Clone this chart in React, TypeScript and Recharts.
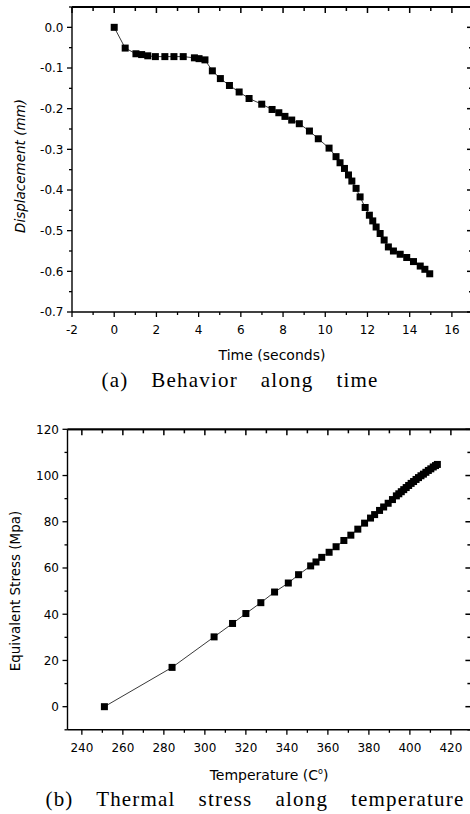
import React from "react";
import { LineChart, Line, XAxis, YAxis, Label, ReferenceLine } from "recharts";

// (a) displacement vs time
const timeSec = [
  0, 0.52, 1.03, 1.3, 1.59, 1.95, 2.4, 2.83, 3.27, 3.8, 4.02, 4.3, 4.65, 5.03,
  5.46, 5.92, 6.39, 6.99, 7.48, 7.8, 8.09, 8.41, 8.77, 9.25, 9.67, 10.18, 10.51,
  10.7, 10.91, 11.1, 11.26, 11.46, 11.65, 11.89, 12.09, 12.25, 12.41, 12.6,
  12.79, 12.99, 13.23, 13.55, 13.86, 14.18, 14.5, 14.72, 14.95,
];
const displacementMm = [
  0, -0.051, -0.065, -0.067, -0.07, -0.072, -0.072, -0.072, -0.072, -0.075,
  -0.077, -0.08, -0.107, -0.126, -0.143, -0.159, -0.175, -0.189, -0.202, -0.21,
  -0.219, -0.228, -0.237, -0.255, -0.274, -0.297, -0.318, -0.333, -0.347,
  -0.363, -0.378, -0.396, -0.417, -0.443, -0.462, -0.476, -0.491, -0.507,
  -0.523, -0.54, -0.55, -0.558, -0.566, -0.576, -0.587, -0.595, -0.606,
];

// (b) equivalent stress vs temperature
const temperatureC = [
  251, 284, 304.5, 313.5, 320, 327.3, 334, 340.7, 345.7, 351.6, 354.2, 357,
  360.6, 364, 367.8, 371.2, 374.6, 377.9, 380.8, 382.8, 385.2, 387.2, 389.4,
  391.5, 393.4, 394.6, 395.8, 397, 398.2, 399.4, 400.6, 401.8, 403, 404.2,
  405.4, 406.6, 407.8, 409, 410.2, 411.4, 412.5, 413.4,
];
const stressMpa = [
  0, 17, 30.2, 36, 40.3, 45, 49.6, 53.5, 57.1, 60.9, 62.6, 64.6, 66.8, 69.2,
  71.9, 74.2, 76.8, 79.4, 81.6, 83.1, 84.9, 86.4, 88, 89.6, 91.2, 92.1, 93,
  93.9, 94.8, 95.7, 96.6, 97.4, 98.3, 99.1, 99.9, 100.6, 101.4, 102.2, 102.9,
  103.7, 104.3, 104.8,
];

// ticks
const timeMajor = [-2, 0, 2, 4, 6, 8, 10, 12, 14, 16];
const timeMinor = [-1, 1, 3, 5, 7, 9, 11, 13, 15, 17];
const dispMajor = [0, -0.1, -0.2, -0.3, -0.4, -0.5, -0.6, -0.7];
const dispMinor = [0.05, -0.05, -0.15, -0.25, -0.35, -0.45, -0.55, -0.65];
const tempMajor = [240, 260, 280, 300, 320, 340, 360, 380, 400, 420];
const tempMinor = [250, 270, 290, 310, 330, 350, 370, 390, 410, 430];
const stressMajor = [0, 20, 40, 60, 80, 100, 120];
const stressMinor = [-10, 10, 30, 50, 70, 90, 110];

const dataA = timeSec.map((t, i) => ({ t, d: displacementMm[i] }));
const dataB = temperatureC.map((t, i) => ({ t, s: stressMpa[i] }));

const SANS = "'DejaVu Sans', sans-serif";
const SERIF = "'Liberation Serif', 'Times New Roman', serif";
const AXIS = { stroke: "#000", strokeWidth: 1.4 };

// bottom ticks also get an inward copy on the top frame (mirror = plot top),
// left ticks an inward copy on the right frame (mirror = plot right)
const makeTick =
  (side: "bottom" | "left", majors: number[], fmt: (v: number) => string, mirror: number) =>
  (props: any) => {
    const { x, y, payload } = props;
    const v = payload.value;
    const major = majors.some((m) => Math.abs(m - v) < 1e-9);
    const len = major ? 5 : 3;
    const txt = { fontSize: 12, fontFamily: SANS, fill: "#000" };
    if (side === "bottom")
      return (
        <g>
          <line x1={x} x2={x} y1={y} y2={y + len} stroke="#000" strokeWidth={1.3} />
          <line x1={x} x2={x} y1={mirror} y2={mirror + len + 1} stroke="#000" strokeWidth={1.5} />
          {major && (
            <text x={x} y={y + 22} textAnchor="middle" {...txt}>
              {fmt(v)}
            </text>
          )}
        </g>
      );
    return (
      <g>
        <line x1={x - len} x2={x} y1={y} y2={y} stroke="#000" strokeWidth={1.3} />
        <line x1={mirror - len - 1} x2={mirror} y1={y} y2={y} stroke="#000" strokeWidth={1.5} />
        {major && (
          <text x={x - 8.5} y={y} dy="0.36em" textAnchor="end" {...txt}>
            {fmt(v)}
          </text>
        )}
      </g>
    );
  };

const SquareDot = (props: any) => {
  const { cx, cy } = props;
  if (cx == null || cy == null) return <g />;
  return <rect x={cx - 3.5} y={cy - 3.5} width={7} height={7} fill="#000" />;
};

const captionStyle: React.CSSProperties = {
  fontSize: 21,
  fontFamily: SERIF,
  letterSpacing: 1.2,
  wordSpacing: 16.5,
};

// y-axis title plus the top edge of the frame, drawn from the axis viewBox
const yTitle = (text: string, bx: number, cy: number, italic: boolean, right: number) => (p: any) => {
  const vb = p.viewBox || {};
  const left = (vb.x ?? 0) + (vb.width ?? 0);
  const top = vb.y ?? 0;
  return (
    <g>
      <line x1={left} x2={right} y1={top} y2={top} stroke="#000" strokeWidth={1.8} />
      <text
        x={bx}
        y={cy}
        transform={`rotate(-90 ${bx} ${cy})`}
        textAnchor="middle"
        fontSize={13.5}
        fontStyle={italic ? "italic" : "normal"}
        fontFamily={SANS}
        fill="#000"
      >
        {text}
      </text>
    </g>
  );
};

const ChartA = () => (
  <LineChart
    width={480}
    height={400}
    data={dataA}
    margin={{ top: 7, right: 7, bottom: 58, left: 0 }}
  >
    <XAxis
      xAxisId="b"
      dataKey="t"
      type="number"
      domain={[-2, 17]}
      ticks={[...timeMajor, ...timeMinor]}
      interval={0}
      tickSize={0}
      tickMargin={0}
      tickLine={false}
      tick={makeTick("bottom", timeMajor, (v) => String(v), 7)}
      axisLine={AXIS}
      height={30}
      allowDataOverflow
    >
      <Label
        content={() => (
          <g>
            <text x={272} y={360} textAnchor="middle" fontSize={14} fontFamily={SANS} fill="#000">
              Time (seconds)
            </text>
            <text x={240} y={387} textAnchor="middle" fill="#000" style={captionStyle}>
              (a) Behavior along time
            </text>
          </g>
        )}
      />
    </XAxis>
    <YAxis
      yAxisId="l"
      type="number"
      domain={[-0.7, 0.05]}
      ticks={[...dispMajor, ...dispMinor]}
      interval={0}
      tickSize={0}
      tickMargin={0}
      tickLine={false}
      tick={makeTick("left", dispMajor, (v) => v.toFixed(1), 473)}
      axisLine={AXIS}
      width={72}
      allowDataOverflow
    >
      <Label content={yTitle("Displacement (mm)", 25, 166, true, 473)} />
    </YAxis>
    <ReferenceLine xAxisId="b" yAxisId="l" y={0.05} stroke="#000" strokeWidth={1.8} />
    <ReferenceLine xAxisId="b" yAxisId="l" x={17} stroke="#000" strokeWidth={1.8} />
    <Line
      xAxisId="b"
      yAxisId="l"
      dataKey="d"
      type="linear"
      stroke="#222"
      strokeWidth={0.9}
      dot={<SquareDot />}
      activeDot={false}
      isAnimationActive={false}
    />
  </LineChart>
);

const ChartB = () => (
  <LineChart
    width={480}
    height={414}
    data={dataB}
    margin={{ top: 29.3, right: 8.6, bottom: 54.2, left: 0 }}
  >
    <XAxis
      xAxisId="b"
      dataKey="t"
      type="number"
      domain={[233, 430]}
      ticks={[...tempMajor, ...tempMinor]}
      interval={0}
      tickSize={0}
      tickMargin={0}
      tickLine={false}
      tick={makeTick("bottom", tempMajor, (v) => String(v), 29.3)}
      axisLine={AXIS}
      height={30}
      allowDataOverflow
    >
      <Label
        content={() => (
          <g>
            <text x={269} y={380} textAnchor="middle" fontSize={14} fontFamily={SANS} fill="#000">
              Temperature (C
              <tspan dy={-6} fontSize={8}>o</tspan>
              <tspan dy={6}>)</tspan>
            </text>
            <text x={255} y={406} textAnchor="middle" fill="#000" style={captionStyle}>
              (b) Thermal stress along temperature
            </text>
          </g>
        )}
      />
    </XAxis>
    <YAxis
      yAxisId="l"
      type="number"
      domain={[-10, 120]}
      ticks={[...stressMajor, ...stressMinor]}
      interval={0}
      tickSize={0}
      tickMargin={0}
      tickLine={false}
      tick={makeTick("left", stressMajor, (v) => String(v), 471.4)}
      axisLine={AXIS}
      width={67.5}
      allowDataOverflow
    >
      <Label content={yTitle("Equivalent Stress (Mpa)", 19.5, 191, false, 471.4)} />
    </YAxis>
    <ReferenceLine xAxisId="b" yAxisId="l" y={120} stroke="#000" strokeWidth={1.8} />
    <ReferenceLine xAxisId="b" yAxisId="l" x={430} stroke="#000" strokeWidth={1.8} />
    <Line
      xAxisId="b"
      yAxisId="l"
      dataKey="s"
      type="linear"
      stroke="#222"
      strokeWidth={0.9}
      dot={<SquareDot />}
      activeDot={false}
      isAnimationActive={false}
    />
  </LineChart>
);

export default function App() {
  return (
    <div
      style={{
        position: "absolute",
        left: 0,
        top: 0,
        width: 470,
        height: 814,
        overflow: "hidden",
        background: "#fff",
      }}
    >
      <ChartA />
      <ChartB />
    </div>
  );
}
